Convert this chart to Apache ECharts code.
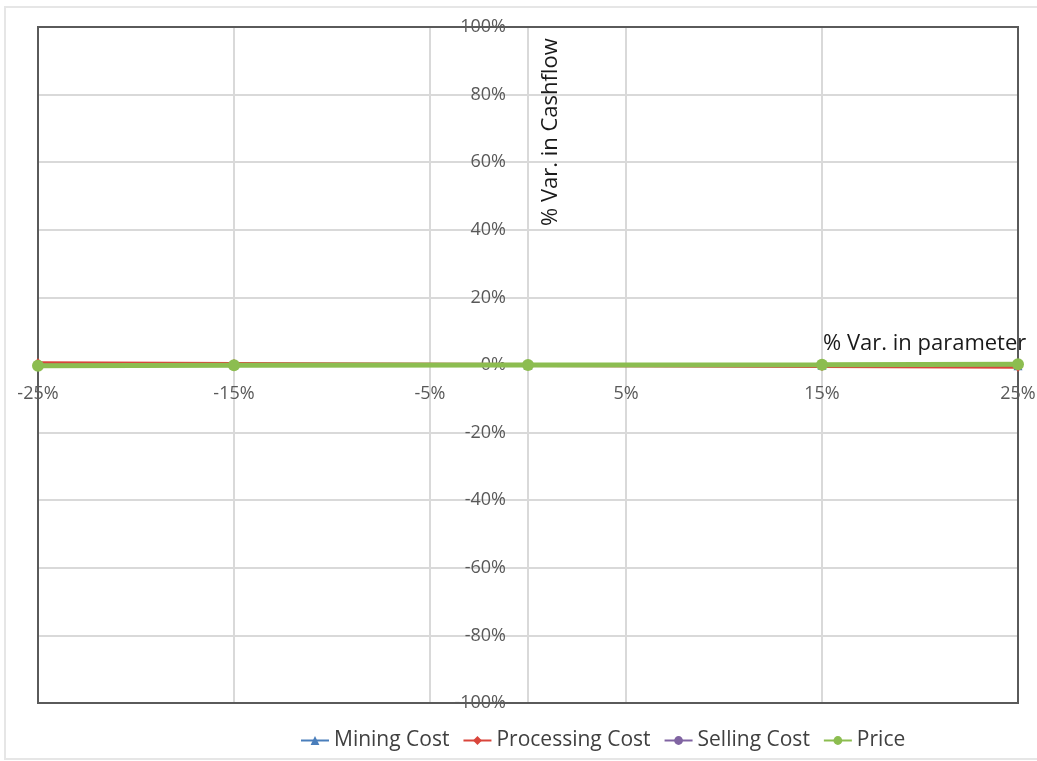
<!DOCTYPE html>
<html>
<head>
<meta charset="utf-8">
<script src="https://cdn.jsdelivr.net/npm/echarts@6/dist/echarts.min.js"></script>
<style>
  html, body { margin: 0; padding: 0; background: #fff; }
  #main { width: 1037px; height: 761px; }
</style>
</head>
<body>
<div id="main"></div>
<script>
// % variation in parameter (x) and % variation in cashflow (y)
var xVar = [-25, -15, 0, 15, 25];
var miningCost = [0.2, 0.1, 0, -0.1, -0.2];
var processingCost = [0.5, 0.3, 0, -0.3, -0.5];
var sellingCost = [0.1, 0.05, 0, -0.05, -0.1];
var price = [-0.2, -0.1, 0, 0.1, 0.2];
var seriesNames = ['Mining Cost', 'Processing Cost', 'Selling Cost', 'Price'];

function pairs(ys) {
    return xVar.map(function (x, i) { return [x, ys[i]]; });
}

var chart = echarts.init(document.getElementById('main'));
var labelFont = { color: '#595959', fontSize: 18, fontFamily: 'Open Sans' };

// plot box
var gLeft = 38, gTop = 27, gWidth = 980, gHeight = 676;

var option = {
    backgroundColor: '#fff',
    animation: false,
    grid: {
        left: gLeft, top: gTop, width: gWidth, height: gHeight,
        containLabel: false,
        outerBoundsMode: 'none'
    },
    legend: {
        bottom: 5,
        left: 295,
        itemGap: 13,
        itemWidth: 28,
        itemHeight: 11,
        textStyle: { color: '#404040', fontSize: 21, fontFamily: 'Open Sans' },
        data: seriesNames
    },
    xAxis: {
        type: 'value',
        min: -25, max: 25, interval: 10,
        // axis crosses at y = 0 (middle of the plot)
        offset: -gHeight / 2,
        axisLine: { onZero: false, lineStyle: { color: '#d9d9d9', width: 2 } },
        axisTick: { show: false },
        axisLabel: Object.assign({ margin: 20, formatter: '{value}%', showMinLabel: true, showMaxLabel: true, hideOverlap: false }, labelFont),
        splitLine: { show: true, lineStyle: { color: '#d9d9d9', width: 2 } }
    },
    yAxis: {
        type: 'value',
        min: -100, max: 100, interval: 20,
        // axis crosses at x = 0 (middle of the plot)
        offset: -gWidth / 2,
        axisLine: { onZero: false, lineStyle: { color: '#d9d9d9', width: 2 } },
        axisTick: { show: false },
        axisLabel: Object.assign({ margin: 22, formatter: '{value}%', hideOverlap: false }, labelFont),
        splitLine: { show: true, lineStyle: { color: '#d9d9d9', width: 2 } }
    },
    graphic: [
        {
            type: 'rect', z: -10, silent: true,
            shape: { x: 5, y: 7, width: 1040, height: 752 },
            style: { fill: 'none', stroke: '#e6e6e6', lineWidth: 2 }
        },
        {
            type: 'rect', z: 1, silent: true,
            shape: { x: gLeft, y: gTop, width: gWidth, height: gHeight },
            style: { fill: 'none', stroke: '#5a5a5a', lineWidth: 2 }
        },
        {
            type: 'text', x: 551, y: 226, rotation: Math.PI / 2, z: 5,
            style: { text: '% Var. in Cashflow', fill: '#1a1a1a', font: '22px "Open Sans"', textAlign: 'left', textVerticalAlign: 'middle' }
        },
        {
            type: 'text', x: 823, y: 344, z: 5,
            style: { text: '% Var. in parameter', fill: '#1a1a1a', font: '22px "Open Sans"', textAlign: 'left', textVerticalAlign: 'middle' }
        }
    ],
    series: [
        {
            name: 'Mining Cost', type: 'line', data: pairs(miningCost), z: 10,
            symbol: 'triangle', symbolSize: 9,
            lineStyle: { color: '#4a7ebb', width: 4 },
            itemStyle: { color: '#4a7ebb' }
        },
        {
            name: 'Processing Cost', type: 'line', data: pairs(processingCost), z: 10,
            symbol: 'diamond', symbolSize: 10,
            lineStyle: { color: '#d9453b', width: 4 },
            itemStyle: { color: '#d9453b' }
        },
        {
            name: 'Selling Cost', type: 'line', data: pairs(sellingCost), z: 10,
            symbol: 'circle', symbolSize: 7,
            lineStyle: { color: '#8064a2', width: 2 },
            itemStyle: { color: '#8064a2' }
        },
        {
            name: 'Price', type: 'line', data: pairs(price), z: 10,
            symbol: 'circle', symbolSize: 12,
            lineStyle: { color: '#8cbd50', width: 5 },
            itemStyle: { color: '#8cbd50' }
        }
    ]
};
chart.setOption(option);
</script>
</body>
</html>
